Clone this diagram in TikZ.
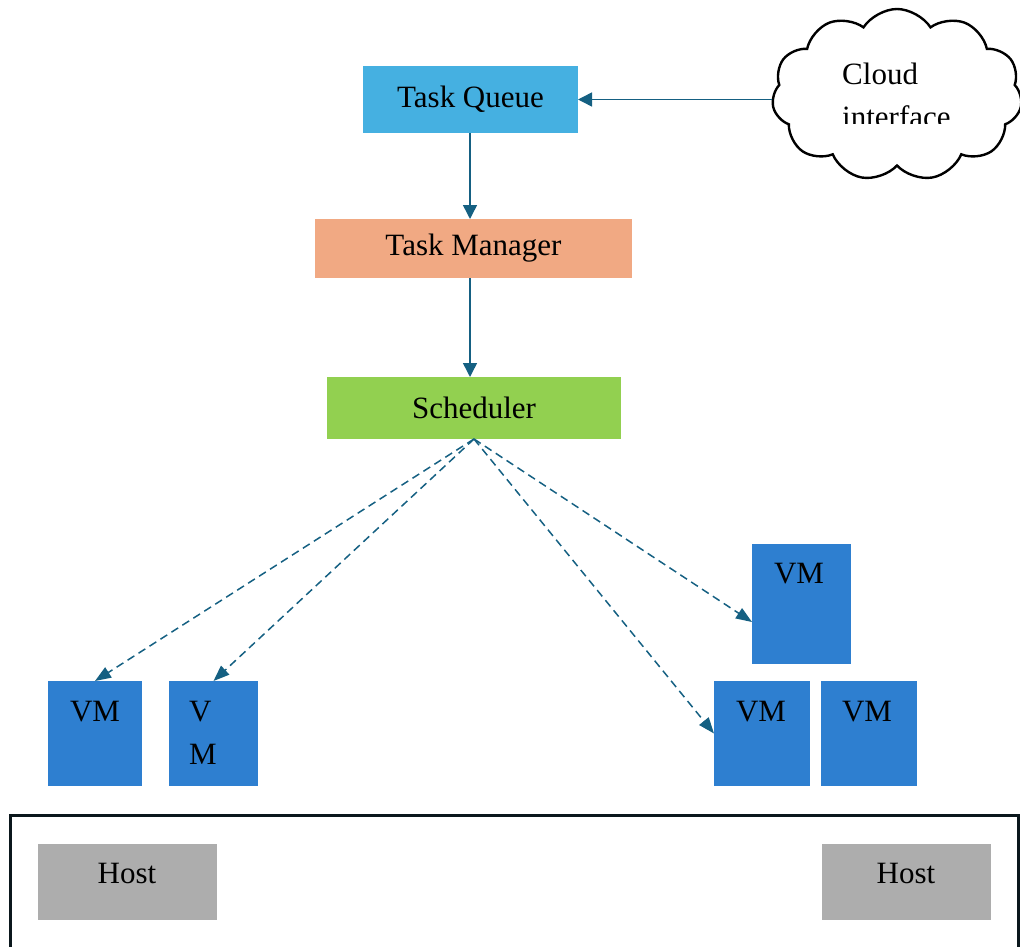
\documentclass[tikz,border=0pt]{standalone}
\usepackage{fontspec}
\setmainfont{Liberation Serif}
\usetikzlibrary{shapes.symbols,arrows.meta}
\definecolor{tqblue}{HTML}{45B0E1}
\definecolor{tmorange}{HTML}{F1A983}
\definecolor{schgreen}{HTML}{92D050}
\definecolor{vmblue}{HTML}{2E7FD0}
\definecolor{hostgray}{HTML}{ADADAD}
\definecolor{arrowcol}{HTML}{156082}
\definecolor{frameline}{HTML}{0B171C}
\begin{document}
\begin{tikzpicture}[x=1pt,y=-1pt,
  font=\fontsize{31}{43}\selectfont,
  box/.style={rectangle, inner sep=0pt, outer sep=0pt, anchor=north west},
  vmbox/.style={box, fill=vmblue},
  hostbox/.style={box, fill=hostgray, minimum height=76pt},
  txt/.style={inner sep=0pt, anchor=base},
  conn/.style={draw=arrowcol, line width=1.5pt, -{Triangle[length=14pt,width=14pt]}},
  dconn/.style={conn, dash pattern=on 8pt off 5pt, -{Triangle[length=16pt,width=12pt]}}
]
\useasboundingbox (0,0) rectangle (1020,947);

% top chain
\node[box, fill=tqblue, minimum width=215pt, minimum height=67pt] (tq) at (363,66) {Task Queue};
\node[box, fill=tmorange, minimum width=317pt, minimum height=59pt] (tm) at (315,219) {Task Manager};
\node[box, fill=schgreen, minimum width=294pt, minimum height=62pt] (sch) at (327,377) {Scheduler};

% cloud
\node[cloud, draw=black, line width=2.4pt, cloud puffs=11, cloud puff arc=115, aspect=1.45,
      minimum width=250pt, minimum height=172pt, inner sep=0pt] (cloud) at (897,95) {};
\begin{scope}
  \clip (830,40) rectangle (990,124);
  \node[inner sep=0pt, anchor=base west, align=left] (cloudtext) at (842,128) {Cloud\\interface};
\end{scope}

% VMs
\node[vmbox, minimum width=94pt, minimum height=105pt] (vm1) at (48,681) {};
\node[vmbox, minimum width=89pt, minimum height=105pt] (vm2) at (169,681) {};
\node[vmbox, minimum width=99pt, minimum height=120pt] (vm3) at (752,544) {};
\node[vmbox, minimum width=96pt, minimum height=105pt] (vm4) at (714,681) {};
\node[vmbox, minimum width=96pt, minimum height=105pt] (vm5) at (821,681) {};
\node[txt] (vm1t) at (95,721) {VM};
\node[inner sep=0pt, anchor=base west, align=left] (vm2t) at (189,764) {V\\M};
\node[txt] (vm3t) at (799,583) {VM};
\node[txt] (vm4t) at (761,721) {VM};
\node[txt] (vm5t) at (867,721) {VM};

% host area
\node[box, draw=frameline, line width=3pt, minimum width=1008pt, minimum height=160pt] (hostarea) at (10,815) {};
\node[hostbox, minimum width=179pt] (host1) at (38,844) {};
\node[hostbox, minimum width=169pt] (host2) at (822,844) {};
\node[txt] (host1t) at (127,883) {Host};
\node[txt] (host2t) at (906,883) {Host};

% connectors
\draw[conn] (tq.east -| cloud.west) -- (tq.east);
\draw[conn] (tq.south -| 470,0) -- (tm.north -| 470,0);
\draw[conn] (tm.south -| 470,0) -- (sch.north -| 470,0);
\draw[dconn] (sch.south) -- (vm1.north);
\draw[dconn] (sch.south) -- (vm2.north);
\draw[dconn] (sch.south) -- (vm4.west);
\draw[dconn] (sch.south) -- (vm3.200);
\end{tikzpicture}
\end{document}
